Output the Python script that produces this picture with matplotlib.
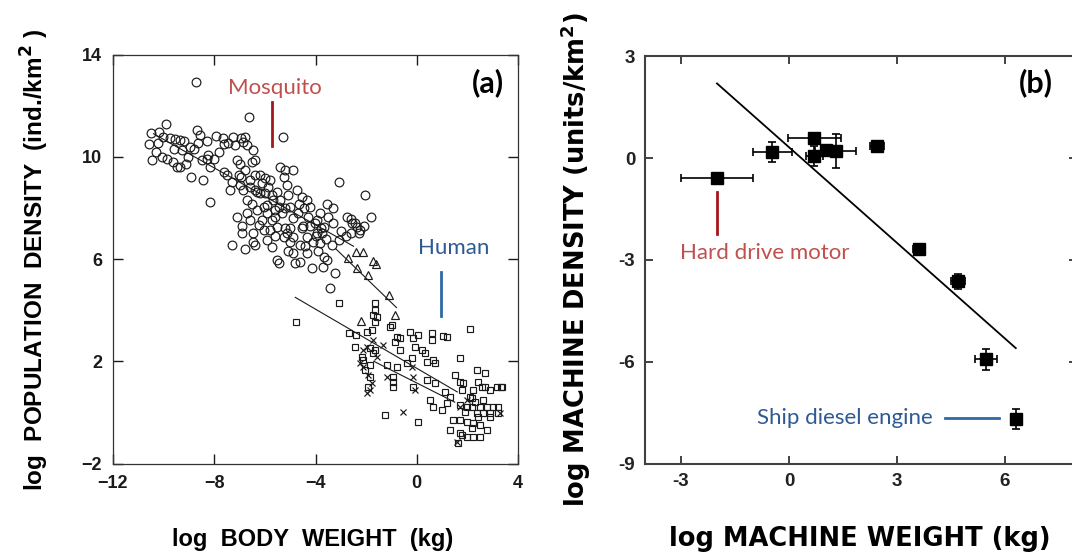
import matplotlib
matplotlib.use("Agg")
import matplotlib.pyplot as plt

# ---------------- Panel (a) data: log body weight vs log population density
circ_x = [-8.72, -6.61, -5.30, -9.92, -10.51, -10.17, -10.56, -10.24, -10.01, -9.74, -9.55, -9.35,
          -10.44, -10.07, -9.88, -9.61, -9.48, -9.37, -9.28, -8.95, -8.93, -9.02, -8.69, -8.56,
          -8.66, -8.49, -8.43, -8.27, -8.23, -8.16, -8.16, -7.93, -7.64, -7.44, -7.24, -7.17,
          -7.11, -6.95, -6.85, -6.78, -6.71, -7.37, -7.04, -6.45, -6.52, -6.38, -6.38, -6.58,
          -6.85, -6.71, -6.52, -6.32, -6.12, -5.99, -5.86, -5.79, -5.73, -5.66, -5.53, -5.40,
          -5.26, -5.20, -4.87, -5.13, -5.07, -5.00, -4.74, -4.67, -4.54, -4.47, -4.34, -4.28,
          -4.21, -4.01, -3.95, -3.82, -3.68, -3.55, -3.49, -3.29, -3.09, -2.76, -2.56, -2.43,
          -2.37, -2.30, -2.23, -2.04, -1.82, -5.33, -5.46, -5.59, -5.92, -6.12, -6.05, -6.45,
          -6.58, -6.71, -7.11, -7.31, -6.91, -6.78, -6.45, -6.38, -6.25, -5.92, -5.73, -5.53,
          -5.46, -5.26, -5.20, -5.00, -4.87, -4.80, -4.61, -4.54, -4.34, -4.34, -4.14, -4.08,
          -3.95, -3.82, -3.75, -3.68, -3.55, -3.35, -3.22, -3.42, -4.87, -5.13, -5.79, -6.05,
          -5.53, -5.73, -3.09, -2.60, -2.10, -7.00, -6.95, -7.60, -9.10, -8.00, -6.20,
          -7.50, -7.30, -7.00, -6.80, -6.60, -6.40, -6.20, -6.00, -5.90, -5.60, -5.40, -5.20,
          -4.90, -4.70, -4.50, -4.20, -4.00, -3.80, -3.60, -3.30, -3.00, -2.80, -2.60, -8.80,
          -8.30, -7.80, -7.60, -9.60, -9.20, -10.30, -5.00, -4.40, -3.90, -5.60, -6.90, -6.30,
          -5.10, -4.60, -3.70]
circ_y = [12.91, 11.56, 10.76, 11.30, 10.94, 10.98, 10.49, 10.55, 10.76, 10.72, 10.68, 10.65,
          9.87, 10.00, 9.90, 9.80, 9.61, 9.58, 10.26, 10.39, 9.22, 10.00, 11.04, 10.85,
          10.52, 9.87, 9.09, 10.62, 10.06, 8.24, 9.61, 10.81, 10.72, 10.55, 10.76, 10.46,
          9.87, 10.74, 10.59, 10.78, 10.46, 8.70, 9.28, 10.26, 9.80, 9.87, 9.28, 8.83,
          8.70, 8.30, 8.17, 8.63, 8.96, 9.15, 8.83, 9.09, 8.50, 8.30, 8.63, 9.61,
          9.22, 9.48, 9.48, 8.89, 8.50, 8.04, 8.70, 8.17, 8.43, 7.98, 8.30, 7.65,
          8.04, 7.39, 7.52, 7.78, 7.26, 8.17, 7.65, 7.98, 9.02, 7.65, 7.39, 7.39,
          7.26, 7.00, 7.13, 8.50, 7.64, 7.78, 8.04, 7.65, 7.78, 7.52, 7.13, 7.00,
          7.52, 7.78, 7.65, 6.54, 7.00, 6.41, 6.67, 6.54, 7.33, 6.74, 6.48, 5.96,
          5.83, 6.87, 7.20, 6.67, 6.22, 5.83, 6.54, 7.20, 6.22, 6.87, 5.63, 6.67,
          7.00, 6.61, 7.00, 6.09, 5.96, 6.54, 5.44, 4.85, 6.87, 7.00, 7.13, 8.04,
          7.26, 7.52, 6.74, 7.55, 7.30, 9.70, 9.20, 9.40, 9.70, 9.90, 8.60,
          9.30, 9.00, 8.90, 9.50, 9.10, 8.70, 9.30, 8.60, 8.10, 7.90, 8.30, 8.00,
          7.60, 7.80, 7.30, 7.30, 6.90, 7.20, 6.80, 7.40, 7.10, 6.90, 7.00, 10.30,
          9.90, 10.20, 10.50, 10.30, 10.60, 10.20, 7.20, 6.50, 6.30, 6.90, 7.30, 7.90,
          6.30, 5.90, 5.70]

tri_x = [-2.41, -2.14, -1.73, -2.37, -1.93, -1.09, -0.84, -2.20, -2.70, -1.60]
tri_y = [6.26, 6.29, 5.94, 5.64, 5.39, 4.59, 3.81, 3.56, 6.05, 5.80]

sq_x = [-4.77, -3.07, -1.65, -1.65, -1.71, -1.56, -1.65, -1.78, -1.98, -2.66, -2.41, -2.43,
        -1.85, -1.65, -2.17, -2.11, -1.71, -1.85, -2.04, -1.85, -1.91, -0.99, -1.06, -0.79,
        -0.86, -0.66, -0.66, -0.27, -0.13, 0.06, 0.59, 0.59, 1.05, 1.18, 2.11, -0.07,
        0.20, 0.33, 0.39, 0.66, 0.72, -0.20, -0.40, -0.79, -1.19, -0.92, -0.92, -0.92,
        -1.25, 0.06, -0.13, 0.39, 0.72, 0.52, 0.66, 0.99, 1.18, 1.31, 1.12, 1.71,
        1.51, 1.71, 1.84, 1.78, 1.71, 2.17, 2.37, 2.70, 2.43, 2.57, 2.24, 2.11,
        2.17, 2.50, 2.76, 3.03, 3.22, 3.16, 3.36, 2.89, 2.37, 2.63, 2.89, 3.22,
        1.45, 1.31, 1.71, 1.97, 2.24, 2.50, 1.71, 1.97, 2.24, 2.50, 2.76, 2.89,
        1.97, 1.78, 1.64, 2.69, 3.31, 2.30, 2.40, 2.20, 2.60, 1.90]
sq_y = [3.55, 4.26, 4.29, 4.00, 3.81, 3.74, 3.55, 3.22, 3.16, 3.09, 3.03, 2.57,
        2.50, 2.44, 2.18, 2.05, 2.31, 1.85, 1.66, 1.39, 1.00, 3.42, 3.35, 2.96,
        2.76, 2.89, 2.44, 3.16, 2.89, 3.03, 3.09, 2.83, 2.99, 2.93, 3.26, 2.57,
        2.44, 2.31, 1.98, 2.05, 1.92, 2.11, 1.92, 1.79, 1.85, 1.39, 1.20, 1.00,
        -0.10, -0.36, 1.00, 1.26, 1.13, 0.48, 0.22, 0.09, 0.35, 0.61, 0.81, 2.11,
        1.46, 1.20, 1.13, 0.87, 0.29, 0.55, 1.66, 1.53, 1.20, 1.00, 0.87, 0.61,
        0.22, 0.22, 0.22, 0.22, 0.22, 1.00, 1.00, 0.87, -0.04, -0.04, -0.04, -0.04,
        -0.30, -0.69, -0.82, -0.95, -0.95, -0.95, -0.30, -0.36, -0.43, -0.50, -0.69, -0.17,
        0.22, -0.89, -1.21, 0.98, 0.98, 0.40, -0.20, -0.60, 0.50, 0.00]

cross_x = [-2.24, -2.11, -1.98, -1.91, -1.85, -1.98, -1.32, -1.19, -0.20, -0.13, -0.07, -0.53,
           1.58, -1.71, -1.58, 1.71, 1.97, 3.29, -2.11, -1.78]
cross_y = [1.92, 2.44, 2.57, 1.46, 0.87, 0.74, 2.63, 1.39, 1.79, 1.39, 0.87, 0.03,
           -1.15, 2.83, 2.18, 0.22, 0.48, -0.04, 1.79, 1.13]

# regression lines of panel (a)
circ_fit_x, circ_fit_y = [-10.4, -2.5], [10.9, 6.5]
tri_fit_x, tri_fit_y = [-3.2, -0.8], [6.4, 4.1]
sq_fit1_x, sq_fit1_y = [-4.8, 1.6], [4.5, 0.8]
sq_fit2_x, sq_fit2_y = [-1.7, 1.5], [2.0, 0.4]

a_xticks = [-12, -8, -4, 0, 4]
a_xticklabels = ["\u221212", "\u22128", "\u22124", "0", "4"]
a_yticks = [-2, 2, 6, 10, 14]
a_yticklabels = ["\u22122", "2", "6", "10", "14"]

# ---------------- Panel (b) data: machines
mach_x = [-2.0, -0.46, 0.70, 0.70, 1.02, 1.30, 2.45, 3.60, 4.70, 5.48, 6.30]
mach_y = [-0.58, 0.18, 0.60, 0.06, 0.23, 0.20, 0.35, -2.67, -3.63, -5.93, -7.68]
mach_xerr = [1.0, 0.54, 0.74, 0.24, 0.0, 0.57, 0.2, 0.15, 0.2, 0.3, 0.0]
mach_yerr = [0.0, 0.30, 0.0, 0.30, 0.0, 0.50, 0.0, 0.0, 0.22, 0.3, 0.3]
mach_fit_x, mach_fit_y = [-2.0, 6.3], [2.2, -5.6]

b_xticks = [-3, 0, 3, 6]
b_xticklabels = ["-3", "0", "3", "6"]
b_yticks = [-9, -6, -3, 0, 3]
b_yticklabels = ["-9", "-6", "-3", "0", "3"]

plt.rcParams["mathtext.fontset"] = "dejavusans"

W, H = 1072, 552
fig = plt.figure(figsize=(W / 100, H / 100), dpi=100)
fig.patch.set_facecolor("white")

ink = "#1a1a1a"
red_txt = "#C0504D"
red_line = "#A3161B"
blue_txt = "#2E5A94"
blue_line = "#2F6AA6"
annot_font = "Lato"

# ---------------- Panel (a)
axa = fig.add_axes([113 / W, 1 - 463.5 / H, 405 / W, 409 / H])
axa.set_xlim(-12, 4)
axa.set_ylim(-2, 14)
axa.plot(circ_fit_x, circ_fit_y, color=ink, lw=0.8)
axa.plot(tri_fit_x, tri_fit_y, color=ink, lw=0.8)
axa.plot(sq_fit1_x, sq_fit1_y, color=ink, lw=0.8)
axa.plot(sq_fit2_x, sq_fit2_y, color=ink, lw=0.8)
axa.plot(circ_x, circ_y, ls="none", marker="o", ms=6.3, mfc="none", mec=ink, mew=0.85)
axa.plot(tri_x, tri_y, ls="none", marker="^", ms=5.6, mfc="none", mec=ink, mew=0.85)
axa.plot(sq_x, sq_y, ls="none", marker="s", ms=4.6, mfc="none", mec=ink, mew=0.85)
axa.plot(cross_x, cross_y, ls="none", marker="x", ms=4.8, mec=ink, mew=0.85)
axa.set_xticks(a_xticks)
axa.set_xticklabels(a_xticklabels)
axa.set_yticks(a_yticks)
axa.set_yticklabels(a_yticklabels)
axa.tick_params(direction="in", length=7, width=1, top=True, right=True, pad=8,
                labelsize=13, colors=ink)
for lab in axa.get_xticklabels() + axa.get_yticklabels():
    lab.set_fontfamily("Liberation Sans")
    lab.set_fontweight("bold")
for sp in axa.spines.values():
    sp.set_linewidth(0.9)
    sp.set_color("#333333")

axa.text(2.82, 12.88, "(a)", fontsize=22, fontweight="bold", family=annot_font,
         ha="center", va="center", color="black")
axa.text(-5.6, 12.69, "Mosquito", fontsize=16, family=annot_font, color=red_txt,
         ha="center", va="center")
axa.plot([-5.72, -5.72], [12.14, 10.42], color=red_line, lw=2)
axa.text(1.47, 6.43, "Human", fontsize=16, family=annot_font, color=blue_txt,
         ha="center", va="center")
axa.plot([0.96, 0.96], [5.49, 3.77], color=blue_line, lw=2)

fig.text(35 / W, 1 - 260 / H, "log  POPULATION  DENSITY  (ind./km$^\\mathbf{2}$ )",
         rotation=90, ha="center", va="center", fontsize=17.5, fontweight="bold",
         family="Liberation Sans", color="black")
fig.text(313 / W, 1 - 546 / H, "log  BODY  WEIGHT  (kg)", ha="center", va="baseline",
         fontsize=17, fontweight="bold", family="Liberation Sans", color="black")

# ---------------- Panel (b)
axb = fig.add_axes([645 / W, 1 - 463.5 / H, 432 / W, 407.2 / H])
axb.set_xlim(-4, 8)
axb.set_ylim(-9, 3)
axb.plot(mach_fit_x, mach_fit_y, color="black", lw=1.3)
axb.errorbar(mach_x, mach_y, xerr=mach_xerr, yerr=mach_yerr, fmt="s", ms=8.5,
             color="black", ecolor="black", elinewidth=1.2, capsize=3.2, capthick=1.2)
axb.set_xticks(b_xticks)
axb.set_xticklabels(b_xticklabels)
axb.set_yticks(b_yticks)
axb.set_yticklabels(b_yticklabels)
axb.tick_params(direction="in", length=6, width=1.2, top=True, right=True, pad=7,
                labelsize=13.5, colors="#222222")
for lab in axb.get_xticklabels() + axb.get_yticklabels():
    lab.set_fontfamily("Liberation Sans")
    lab.set_fontweight("bold")
for sp in axb.spines.values():
    sp.set_linewidth(1.5)
    sp.set_color("#404040")

axb.text(6.86, 2.22, "(b)", fontsize=22, fontweight="bold", family=annot_font,
         ha="center", va="center", color="black")
axb.plot([-2.0, -2.0], [-0.99, -2.25], color=red_line, lw=2)
axb.text(-0.67, -2.81, "Hard drive motor", fontsize=16, family=annot_font, color=red_txt,
         ha="center", va="center")
axb.text(1.56, -7.65, "Ship diesel engine", fontsize=16, family=annot_font, color=blue_txt,
         ha="center", va="center")
axb.plot([4.33, 5.83], [-7.67, -7.67], color=blue_line, lw=2)

fig.text(576 / W, 1 - 260 / H, "log MACHINE DENSITY (units/km$^\\mathbf{2}$)",
         rotation=90, ha="center", va="center", fontsize=18.5, fontweight="bold",
         family="DejaVu Sans", color="black")
fig.text(860 / W, 1 - 546 / H, "log MACHINE WEIGHT (kg)", ha="center", va="baseline",
         fontsize=18.5, fontweight="bold", family="DejaVu Sans", color="black")

fig.savefig("out.png", dpi=100)
